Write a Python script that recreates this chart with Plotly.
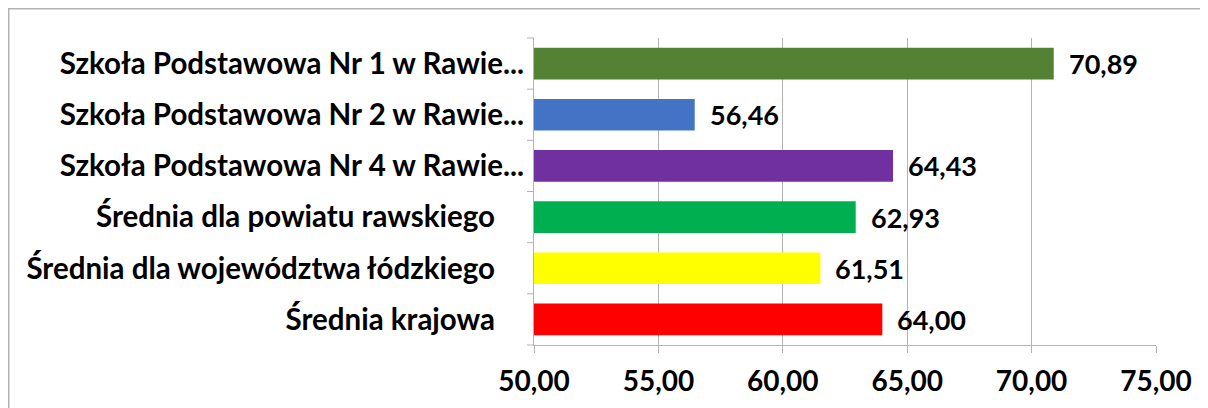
import plotly.graph_objects as go

categories = [
    "Szkoła Podstawowa Nr 1 w Rawie...",
    "Szkoła Podstawowa Nr 2 w Rawie...",
    "Szkoła Podstawowa Nr 4 w Rawie...",
    "Średnia dla powiatu rawskiego ",
    "Średnia dla województwa łódzkiego ",
    "Średnia krajowa ",
]
values = [70.89, 56.46, 64.43, 62.93, 61.51, 64.00]
colors = ["#548235", "#4472C4", "#7030A0", "#00B050", "#FFFF00", "#FF0000"]
tick_vals = [50, 55, 60, 65, 70, 75]

FONT = "Lato"
ML, MR, MT, MB = 526, 60, 30, 71
W, H = 1208, 408
PW = W - ML - MR
PH = H - MT - MB

# keep the trailing space of the labels visible (SVG collapses plain spaces)
tick_text = [c.rstrip() + ("\u2002\u00a0\u00a0" if c.endswith(" ") else "") for c in categories]

fig = go.Figure()
fig.add_trace(go.Bar(
    y=categories,
    x=[v - 50 for v in values],
    base=50,
    orientation="h",
    marker=dict(color=colors, line=dict(width=0)),
    width=0.62,
    cliponaxis=False,
    hoverinfo="skip",
))

# value labels placed just outside the bar ends
for cat, v in zip(categories, values):
    fig.add_annotation(
        x=v, y=cat, xref="x", yref="y",
        text=f"{v:.2f}".replace(".", ","),
        showarrow=False, xanchor="left", yanchor="middle",
        xshift=13,
        font=dict(family=FONT, size=27, color="#000000", weight="bold"),
    )

fig.update_layout(
    width=W,
    height=H,
    margin=dict(l=ML, r=MR, t=MT, b=MB, autoexpand=False),
    paper_bgcolor="white",
    plot_bgcolor="white",
    showlegend=False,
    separators=", ",
    font=dict(family=FONT, color="#000000"),
    xaxis=dict(
        range=[50, 75],
        tickvals=tick_vals,
        tickformat=".2f",
        showgrid=True,
        gridcolor="#B3B3B3",
        gridwidth=1,
        showline=True,
        linecolor="#B3B3B3",
        linewidth=1,
        ticks="outside",
        ticklen=7,
        tickcolor="#B3B3B3",
        tickfont=dict(family=FONT, size=28, color="#000000", weight="bold"),
        ticklabelstandoff=4,
        zeroline=False,
        fixedrange=True,
        automargin=False,
    ),
    yaxis=dict(
        categoryorder="array",
        categoryarray=categories[::-1],
        tickmode="array",
        tickvals=categories,
        ticktext=tick_text,
        showline=True,
        linecolor="#B3B3B3",
        linewidth=1,
        ticks="",
        tickfont=dict(family=FONT, size=29.5, color="#000000", weight="bold"),
        ticklabelstandoff=3,
        showgrid=False,
        zeroline=False,
        fixedrange=True,
        automargin=False,
    ),
)

# category boundary tick marks on the y axis
n = len(categories)
for i in range(n + 1):
    fig.add_shape(type="line", xref="paper", yref="paper",
                  x0=-7 / PW, x1=0, y0=i / n, y1=i / n,
                  line=dict(color="#B3B3B3", width=1))

# outer chart frame
fig.add_shape(type="rect", xref="paper", yref="paper",
              x0=(0.75 - ML) / PW, x1=(W + 10 - ML) / PW,
              y0=(PH + MT - H - 10) / PH, y1=(PH + MT - 0.75) / PH,
              line=dict(color="#B3B3B3", width=1.5), fillcolor="rgba(0,0,0,0)",
              layer="below")

fig.write_html("out.html")
